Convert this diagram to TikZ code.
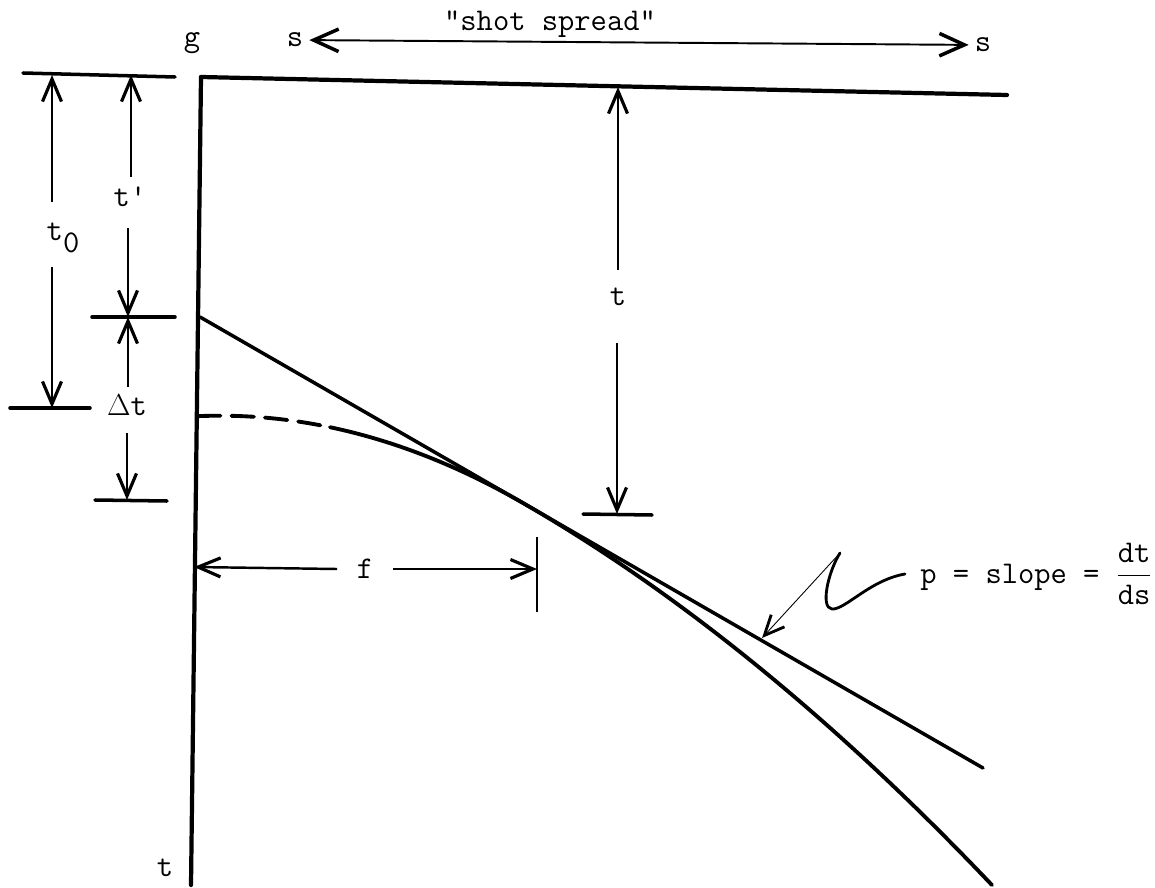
\documentclass[tikz,border=0pt]{standalone}
\usetikzlibrary{arrows.meta}

\begin{document}
\begin{tikzpicture}[x=0.02cm, y=-0.02cm,
		lab/.style={font=\ttfamily\fontsize{18}{21}\selectfont},
		axis/.style={line width=2.4pt, line cap=round},
		tick/.style={line width=2pt, line cap=round},
		curve/.style={line width=2.2pt, line cap=round},
		dim/.style={line width=1.4pt, -{Straight Barb[length=0.45cm, width=0.38cm, line width=1.8pt]}},
		barb/.tip={Straight Barb[length=0.5cm, width=0.45cm, line width=2pt]}]
		\useasboundingbox (0,0) rectangle (1155,888);

		% axes
		\coordinate (o) at (201,77);
		\coordinate (tend) at (191,885);
		\coordinate (send) at (1007,95);
		\draw[axis] (o) -- (tend);
		\draw[axis] (o) -- (send);
		\node[lab] (g) at (192,43) {g};
		\node[lab] (taxis) at (165,868) {t};

		% shot spread
		\node[lab] (sL) at (295,40) {s};
		\node[lab] (sR) at (983,45) {s};
		\draw[line width=1.1pt, barb-barb] (sL) -- (sR);
		\node[lab] (spread) at (550,24) {"shot spread"};

		% left dimensions
		\draw[tick] (23,73) -- (175,77);
		\draw[tick] (10,408) -- (90,408);
		\draw[tick] (92,317) -- (175,317);
		\draw[tick] (95,500) -- (167,501);
		\coordinate (t0top) at (52,75);
		\coordinate (t0bot) at (52,408);
		\coordinate (tptop) at (131,75);
		\coordinate (tpbot) at (128,317);
		\coordinate (dtbot) at (127,500);

		\node[lab, anchor=base, inner sep=0pt, text height=0.78cm, text depth=0.52cm] (t0lab) at (63,241) {t\raisebox{-0.85ex}{0}};
		\draw[dim] (t0lab.north -| t0top) -- (t0top);
		\draw[dim] (t0lab.south -| t0bot) -- (t0bot);

		\node[lab, anchor=base, inner sep=0pt, text height=0.6cm, text depth=0.42cm] (tplab) at (130,207) {t'};
		\draw[dim] (tplab.north -| tptop) -- (tptop);
		\draw[dim] (tplab.south -| tpbot) -- (tpbot);

		\node[lab, anchor=base, inner sep=0pt, text height=0.56cm, text depth=0.36cm] (dtlab) at (127,415) {$\Delta$t};
		\draw[dim] (dtlab.north -| tpbot) -- (tpbot);
		\draw[dim] (dtlab.south -| dtbot) -- (dtbot);

		% t at the offset
		\draw[tick] (583,514) -- (652,515);
		\coordinate (ttop) at (618,87);
		\coordinate (tbot) at (617,514);
		\node[lab, anchor=base, inner sep=0pt, text height=0.7cm, text depth=0.76cm] (tlab) at (618,305) {t};
		\draw[dim, line width=1.2pt] (tlab.north -| ttop) -- (ttop);
		\draw[dim, line width=1.2pt] (tlab.south -| tbot) -- (tbot);

		% f
		\draw[line width=1.2pt] (537,537) -- (537,612);
		\coordinate (fL) at (194,567);
		\coordinate (fR) at (537,569);
		\node[lab, inner xsep=0.39cm] (flab) at (365,569) {f};
		\draw[dim] (flab.west) -- (fL);
		\draw[dim] (flab.east) -- (fR);

		% tangent and curve
		\coordinate (tanA) at (200,317);
		\coordinate (tanB) at (983,768);
		\draw[line width=2pt, line cap=round] (tanA) -- (tanB);
		\draw[curve, dash pattern=on 0.45cm off 0.22cm] plot[domain=198:330, samples=20] (\x, {503+0.576*(\x-523)+9.5*((\x-523)/100)^2});
		\draw[curve] plot[domain=330:523, samples=30] (\x, {503+0.576*(\x-523)+9.5*((\x-523)/100)^2})
			-- plot[domain=523:992, samples=50] (\x, {503+0.576*(\x-523)+5.09*((\x-523)/100)^2});

		% slope label
		\node[lab, anchor=west, inner sep=0pt] (plab) at (920,574) {p = slope = $\displaystyle\frac{\hbox{dt}}{\hbox{ds}}$};
		\coordinate (pk) at (840,553);
		\coordinate (ptip) at (762,638);
		\draw[line width=1.6pt, line cap=round] ([xshift=-0.3cm]plab.west) .. controls (870,580) and (845,610) .. (832,609) .. controls (820,608) and (828,572) .. (pk);
		\draw[line width=0.5pt, -{Straight Barb[length=0.4cm, width=0.36cm, line width=1.6pt]}] (pk) -- (ptip);
	\end{tikzpicture}
\end{document}
